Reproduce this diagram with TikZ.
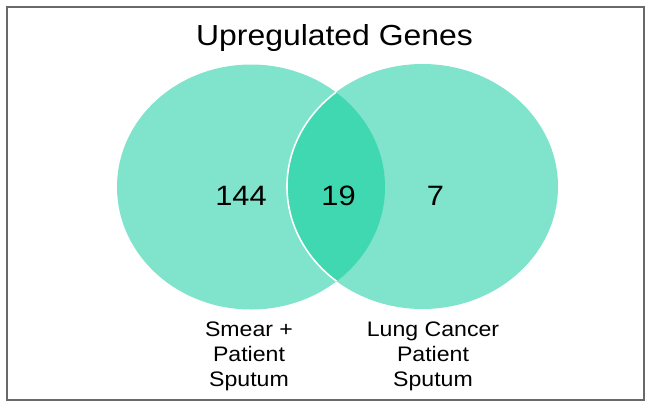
\documentclass[tikz,border=0pt]{standalone}
\usepackage{fontspec}
\setmainfont{Liberation Sans}[FakeStretch=1.1]
\definecolor{vlight}{RGB}{128,227,204}
\definecolor{vdark}{RGB}{64,216,176}
\definecolor{framegray}{RGB}{105,105,105}
\tikzset{
  setfill/.style={fill=vlight},
  numtext/.style={anchor=base, inner sep=0pt, font=\fontsize{28}{32}\selectfont},
  labeltext/.style={anchor=north, inner sep=0pt, align=center, font=\fontsize{21}{25}\selectfont},
}
\begin{document}
\begin{tikzpicture}[x=1pt,y=-1pt]
\useasboundingbox (0,0) rectangle (650,407);
\draw[framegray, line width=2pt] (7,7) rectangle (644,400);
% circles
\fill[setfill] (251,187) ellipse [x radius=134, y radius=122.5];
\fill[setfill] (422.5,186.5) ellipse [x radius=135.5, y radius=122.5];
\begin{scope}
  \clip (251,187) ellipse [x radius=134, y radius=122.5];
  \fill[vdark] (422.5,186.5) ellipse [x radius=135.5, y radius=122.5];
  \draw[white, line width=1.6pt] (422.5,186.5) ellipse [x radius=135.5, y radius=122.5];
\end{scope}
% texts
\node[anchor=base, inner sep=0pt, font=\fontsize{29}{34}\selectfont] (title) at (334.5,45) {Upregulated Genes};
\node[numtext] (left) at (241,205) {144};
\node[numtext] (both) at (338.5,205) {19};
\node[numtext] (right) at (435.5,205) {7};
\node[labeltext] (leftlabel) at (249,321.5) {Smear +\\Patient\\Sputum};
\node[labeltext] (rightlabel) at (433,321.5) {Lung Cancer\\Patient\\Sputum};
\end{tikzpicture}
\end{document}
